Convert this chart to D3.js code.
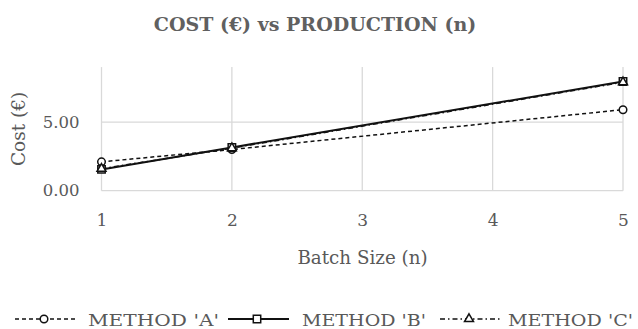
<!DOCTYPE html>
<html><head><meta charset="utf-8">
<script src="https://cdn.jsdelivr.net/npm/d3@7"></script>
<style>body{margin:0;background:#fff}svg{display:block}</style>
</head><body>
<script>
const batchSizes = [1, 2, 5];
const methodA = [2.1, 3.0, 5.9];
const methodB = [1.55, 3.15, 7.95];
const methodC = [1.6, 3.1, 7.9];
const xTicks = [1, 2, 3, 4, 5];
const yTicks = [0, 5];
const seriesNames = ["METHOD 'A'", "METHOD 'B'", "METHOD 'C'"];

const W = 638, H = 329;
const font = "'DejaVu Serif', serif";
const txt = "#595959";
const svg = d3.select("body").append("svg").attr("width", W).attr("height", H);

const x = d3.scaleLinear().domain([1, 5]).range([101.5, 623]);
const y = d3.scaleLinear().domain([0, 9]).range([190.7, 67.1]);

svg.append("text").attr("x", 315).attr("y", 31).attr("text-anchor", "middle")
  .attr("font-family", font).attr("font-weight", "bold").attr("font-size", 19)
  .attr("fill", "#606060").text("COST (€) vs PRODUCTION (n)");

// gridlines
const g = svg.append("g");
g.selectAll(".hg").data(yTicks).join("line")
  .attr("x1", x(1)).attr("x2", x(5)).attr("y1", d => y(d)).attr("y2", d => y(d))
  .attr("stroke", "#d9d9d9").attr("stroke-width", 1.3);
g.selectAll(".vg").data(xTicks).join("line")
  .attr("x1", d => x(d)).attr("x2", d => x(d)).attr("y1", y(0)).attr("y2", y(9))
  .attr("stroke", "#d9d9d9").attr("stroke-width", 1.3);

// axes labels
const yAxis = d3.axisLeft(y).tickValues(yTicks).tickFormat(d3.format(".2f")).tickSize(0).tickPadding(22);
const ya = svg.append("g").attr("transform", `translate(${x(1)},0)`).call(yAxis);
ya.select(".domain").remove();
ya.selectAll("text").attr("font-family", font).attr("font-size", 16.5).attr("fill", txt);

const xAxis = d3.axisBottom(x).tickValues(xTicks).tickFormat(d3.format("d")).tickSize(0).tickPadding(23);
const xa = svg.append("g").attr("transform", `translate(0,${y(0)})`).call(xAxis);
xa.select(".domain").remove();
xa.selectAll("text").attr("font-family", font).attr("font-size", 17).attr("fill", txt);

svg.append("text").attr("x", 362.5).attr("y", 264).attr("text-anchor", "middle")
  .attr("font-family", font).attr("font-size", 18.3).attr("fill", txt).text("Batch Size (n)");
svg.append("text").attr("transform", `translate(25,${(y(0)+y(9))/2}) rotate(-90)`).attr("text-anchor", "middle")
  .attr("font-family", font).attr("font-size", 18.5).attr("fill", txt).text("Cost (€)");

const series = [
  {name: seriesNames[0], vals: methodA, dash: "4,3", width: 1.5, marker: "circle"},
  {name: seriesNames[1], vals: methodB, dash: null, width: 2, marker: "square"},
  {name: seriesNames[2], vals: methodC, dash: "5,3,1.5,3", width: 1.5, marker: "triangle"}
];
const line = d3.line().x(d => x(d[0])).y(d => y(d[1]));
const sym = {circle: d3.symbolCircle, square: d3.symbolSquare, triangle: d3.symbolTriangle};
const symSize = {circle: 45, square: 55, triangle: 35};

series.forEach(s => {
  const pts = batchSizes.map((b, i) => [b, s.vals[i]]);
  svg.append("path").attr("d", line(pts)).attr("fill", "none").attr("stroke", "#111")
    .attr("stroke-width", s.width).attr("stroke-dasharray", s.dash);
});
series.forEach(s => {
  const pts = batchSizes.map((b, i) => [b, s.vals[i]]);
  svg.selectAll(null).data(pts).join("path")
    .attr("transform", d => `translate(${x(d[0])},${y(d[1])})`)
    .attr("d", d3.symbol().type(sym[s.marker]).size(symSize[s.marker]))
    .attr("fill", "#fff").attr("stroke", "#111").attr("stroke-width", 1.5);
});

// legend
const legSym = [15, 228, 440];
const legTxt = [88, 302, 508];
const legW = [131, 124, 125];
const ly = 319;
series.forEach((s, i) => {
  const lg = svg.append("g").attr("transform", `translate(${legSym[i]},${ly})`);
  lg.append("line").attr("x1", 0).attr("x2", 61).attr("y1", 0).attr("y2", 0)
    .attr("stroke", "#111").attr("stroke-width", s.width).attr("stroke-dasharray", s.dash);
  lg.append("path").attr("transform", "translate(29,0)")
    .attr("d", d3.symbol().type(sym[s.marker]).size(symSize[s.marker]))
    .attr("fill", "#fff").attr("stroke", "#111").attr("stroke-width", 1.5);
  svg.append("text").attr("x", legTxt[i]).attr("y", ly + 6.5).attr("font-family", font).attr("font-size", 17)
    .attr("textLength", legW[i]).attr("lengthAdjust", "spacingAndGlyphs")
    .attr("fill", txt).text(s.name);
});
</script>
</body></html>
